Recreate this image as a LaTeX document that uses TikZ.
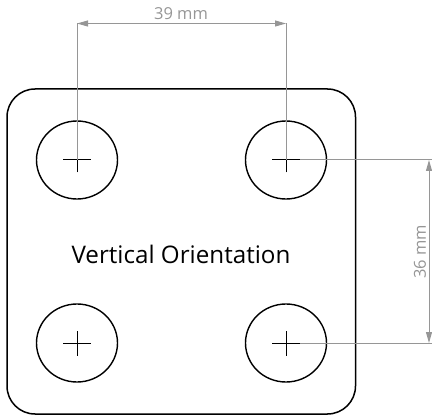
\documentclass[tikz,border=0pt]{standalone}
\usepackage{fontspec}
\setmainfont{Open Sans}
\usetikzlibrary{arrows.meta,shapes.geometric}
\definecolor{dimgray}{RGB}{150,150,150}
\begin{document}
\begin{tikzpicture}[x=1pt,y=1pt,
  hole/.style={draw=black,line width=1.4pt,ellipse,minimum width=81pt,minimum height=78pt,inner sep=0pt},
  crossline/.style={draw=black,line width=1pt},
  dimline/.style={draw=dimgray,line width=1pt},
  dimarrow/.style={dimline,{Triangle[length=11pt,width=6pt]}-{Triangle[length=11pt,width=6pt]}},
  dimlabel/.style={text=dimgray,font=\fontsize{16.5}{19}\selectfont,inner sep=0pt}]
\useasboundingbox (0,0) rectangle (432,416);
\node[draw=black,line width=1.5pt,rounded corners=28pt,minimum width=348.5pt,minimum height=325pt,inner sep=0pt] (plate) at (181.25,164.5) {};
\node[hole] (h1) at (77,256) {};
\node[hole] (h2) at (286,256) {};
\node[hole] (h3) at (77,73) {};
\node[hole] (h4) at (286,73) {};
\foreach \h in {h1,h2,h3,h4}{
  \draw[crossline] ([xshift=-14pt]\h.center) -- ([xshift=14pt]\h.center);
  \draw[crossline] ([yshift=-12.5pt]\h.center) -- ([yshift=12.5pt]\h.center);
}
\node[font=\fontsize{24.2}{28}\selectfont,inner sep=0pt] (title) at (181,162) {Vertical Orientation};
% top dimension
\coordinate (t1) at (77,392.5);
\coordinate (t2) at (286,392.5);
\draw[dimline] (h1.center) -- (t1);
\draw[dimline] (h2.center) -- (t2);
\draw[dimarrow] (t1) -- (t2);
\node[dimlabel] (l39) at (181,402) {39 mm};
% right dimension
\coordinate (r1) at (429,256);
\coordinate (r2) at (429,73);
\coordinate (e1) at (432,256);
\coordinate (e2) at (432,73);
\draw[dimline] ([xshift=14pt]h2.center) -- (e1);
\draw[dimline] ([xshift=14pt]h4.center) -- (e2);
\draw[dimarrow] (r1) -- (r2);
\node[dimlabel,rotate=90] (l36) at (420,164) {36 mm};
\end{tikzpicture}
\end{document}
